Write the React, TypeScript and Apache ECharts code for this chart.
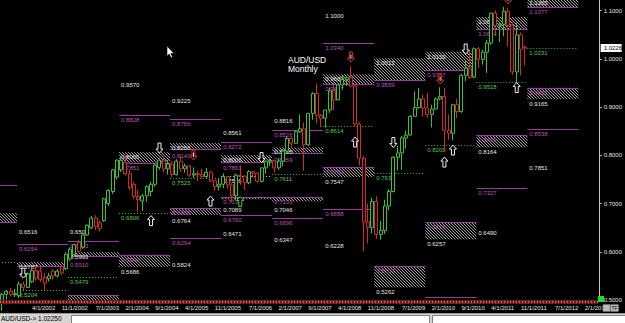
import React, { useEffect, useRef } from 'react';
import * as echarts from 'echarts';

// ---------- data ----------
const FIRST_YEAR = 2001;
const FIRST_MONTH = 9; // Sep 2001 is the first category
const CATEGORY_COUNT = 141; // runs into the empty future (May 2013)
const months: string[] = Array.from({ length: CATEGORY_COUNT }, (_, i) => {
  const m0 = FIRST_MONTH - 1 + i;
  return `${(m0 % 12) + 1}/1/${FIRST_YEAR + Math.floor(m0 / 12)}`;
});

const xTickLabels = [
  '4/1/2002', '11/1/2002', '7/1/2003', '2/1/2004', '9/1/2004', '4/1/2005', '11/1/2005',
  '7/1/2006', '2/1/2007', '9/1/2007', '4/1/2008', '11/1/2008', '7/1/2009', '2/1/2010',
  '9/1/2010', '4/1/2011', '11/1/2011', '7/1/2012', '2/1/2013',
];

const yMin = 0.5;
const yMax = 1.1222;
const yStep = 0.1;

// monthly candles [open, high, low, close], Sep 2001 .. Dec 2011
const ohlc: number[][] = [
  [0.4960, 0.5150, 0.4775, 0.5120], [0.5120, 0.5210, 0.5010, 0.5180], [0.5180, 0.5250, 0.5070, 0.5110], [0.5110, 0.5230, 0.5060, 0.5130],
  // 2002
  [0.5090, 0.5380, 0.5040, 0.5330], [0.5330, 0.5380, 0.5210, 0.5260], [0.5260, 0.5570, 0.5250, 0.5540], [0.5380, 0.5660, 0.5350, 0.5610],
  [0.5610, 0.5720, 0.5400, 0.5450], [0.5600, 0.5700, 0.5380, 0.5420], [0.5470, 0.5560, 0.5200, 0.5350], [0.5440, 0.5560, 0.5380, 0.5500],
  [0.5600, 0.5640, 0.5420, 0.5500], [0.5500, 0.5640, 0.5460, 0.5600], [0.5690, 0.5720, 0.5520, 0.5560], [0.5650, 0.5990, 0.5620, 0.5950],
  // 2003
  [0.5850, 0.6090, 0.5810, 0.6050], [0.5940, 0.6170, 0.5900, 0.6150], [0.6200, 0.6240, 0.5970, 0.6010], [0.6100, 0.6380, 0.6060, 0.6350],
  [0.6350, 0.6570, 0.6330, 0.6550], [0.6500, 0.6740, 0.6470, 0.6700], [0.6700, 0.6760, 0.6450, 0.6520], [0.6600, 0.6650, 0.6420, 0.6480],
  [0.6650, 0.7120, 0.6620, 0.7100], [0.7000, 0.7300, 0.6950, 0.7270], [0.7250, 0.7720, 0.7200, 0.7700], [0.7550, 0.7920, 0.7500, 0.7900],
  // 2004
  [0.7700, 0.7960, 0.7650, 0.7900], [0.7850, 0.8007, 0.7580, 0.7620], [0.7620, 0.7700, 0.7280, 0.7330], [0.7400, 0.7450, 0.7100, 0.7150],
  [0.7150, 0.7280, 0.6830, 0.7080], [0.7050, 0.7200, 0.6850, 0.7160], [0.7160, 0.7380, 0.7040, 0.7350], [0.7250, 0.7450, 0.7150, 0.7400],
  [0.7400, 0.7820, 0.7350, 0.7800], [0.7750, 0.7940, 0.7700, 0.7900], [0.7900, 0.7980, 0.7650, 0.7720], [0.7720, 0.7900, 0.7600, 0.7820],
  // 2005
  [0.7820, 0.7880, 0.7550, 0.7600], [0.7600, 0.7920, 0.7580, 0.7880], [0.7880, 0.7990, 0.7660, 0.7720], [0.7720, 0.7830, 0.7640, 0.7780],
  [0.7780, 0.7800, 0.7550, 0.7590], [0.7590, 0.7750, 0.7530, 0.7620], [0.7620, 0.7680, 0.7470, 0.7600], [0.7600, 0.7720, 0.7540, 0.7560],
  [0.7560, 0.7740, 0.7530, 0.7650], [0.7650, 0.7680, 0.7440, 0.7470], [0.7470, 0.7480, 0.7260, 0.7350], [0.7350, 0.7510, 0.7270, 0.7400],
  // 2006
  [0.7400, 0.7630, 0.7320, 0.7560], [0.7560, 0.7560, 0.7310, 0.7390], [0.7390, 0.7420, 0.7020, 0.7160], [0.7160, 0.7620, 0.7060, 0.7590],
  [0.7590, 0.7790, 0.7390, 0.7570], [0.7570, 0.7590, 0.7280, 0.7430], [0.7430, 0.7690, 0.7400, 0.7660], [0.7660, 0.7680, 0.7530, 0.7630],
  [0.7630, 0.7640, 0.7430, 0.7460], [0.7460, 0.7750, 0.7440, 0.7740], [0.7740, 0.7900, 0.7620, 0.7880], [0.7880, 0.7960, 0.7780, 0.7890],
  // 2007
  [0.7890, 0.7900, 0.7640, 0.7740], [0.7740, 0.7940, 0.7700, 0.7880], [0.7880, 0.8130, 0.7770, 0.8090], [0.8090, 0.8390, 0.8050, 0.8350],
  [0.8350, 0.8370, 0.8150, 0.8250], [0.8250, 0.8520, 0.8240, 0.8490], [0.8490, 0.8850, 0.8460, 0.8550], [0.8550, 0.8680, 0.7680, 0.8220],
  [0.8220, 0.8880, 0.8190, 0.8870], [0.8870, 0.9310, 0.8740, 0.9280], [0.9280, 0.9490, 0.8660, 0.8830], [0.8830, 0.8860, 0.8580, 0.8770],
  // 2008
  [0.8770, 0.8940, 0.8580, 0.8940], [0.8940, 0.9410, 0.8880, 0.9340], [0.9340, 0.9500, 0.8930, 0.9150], [0.9150, 0.9470, 0.9140, 0.9460],
  [0.9460, 0.9650, 0.9370, 0.9570], [0.9570, 0.9640, 0.9440, 0.9610], [0.9610, 0.9850, 0.9420, 0.9440], [0.9440, 0.9460, 0.8600, 0.8650],
  [0.8650, 0.8690, 0.7790, 0.7940], [0.7940, 0.7990, 0.6008, 0.6620], [0.6620, 0.7000, 0.6170, 0.6500], [0.6500, 0.7120, 0.6380, 0.7040],
  // 2009
  [0.7040, 0.7150, 0.6270, 0.6360], [0.6360, 0.6640, 0.6250, 0.6440], [0.6440, 0.7080, 0.6370, 0.6950], [0.6950, 0.7300, 0.6860, 0.7250],
  [0.7250, 0.7980, 0.7230, 0.7960], [0.7960, 0.8200, 0.7690, 0.8050], [0.8050, 0.8400, 0.7700, 0.8360], [0.8360, 0.8510, 0.8140, 0.8420],
  [0.8420, 0.8830, 0.8410, 0.8810], [0.8810, 0.9330, 0.8810, 0.8990], [0.8990, 0.9400, 0.8970, 0.9170], [0.9170, 0.9260, 0.8800, 0.8980],
  // 2010
  [0.8980, 0.9290, 0.8770, 0.8850], [0.8850, 0.9050, 0.8580, 0.8960], [0.8960, 0.9200, 0.8950, 0.9170], [0.9170, 0.9410, 0.9140, 0.9220],
  [0.9220, 0.9400, 0.8070, 0.8520], [0.8520, 0.8850, 0.8320, 0.8460], [0.8460, 0.9070, 0.8310, 0.9050], [0.9050, 0.9170, 0.8770, 0.8910],
  [0.8910, 0.9690, 0.8880, 0.9660], [0.9660, 0.9980, 0.9540, 0.9810], [0.9810, 1.0180, 0.9590, 0.9620], [0.9620, 1.0240, 0.9600, 1.0210],
  // 2011
  [1.0210, 1.0250, 0.9810, 0.9990], [0.9990, 1.0190, 0.9880, 1.0140], [1.0140, 1.0390, 0.9710, 1.0330], [1.0330, 1.0960, 1.0290, 1.0950],
  [1.0950, 1.1010, 1.0470, 1.0690], [1.0690, 1.0770, 1.0350, 1.0720], [1.0720, 1.1080, 1.0470, 1.0990], [1.0990, 1.1060, 1.0260, 1.0700],
  [1.0700, 1.0760, 0.9670, 0.9730], [0.9730, 1.0750, 0.9390, 1.0500], [1.0500, 1.0550, 0.9660, 1.0200], [1.0240, 1.0280, 0.9860, 1.0226],
];

const currentPrice = 1.0226;
const statusText = 'AUD/USD-> 1.02250';
const titleLines = ['AUD/USD', 'Monthly'];

// yearly levels: [year column, price, kind]  hi = white label, res = purple line, sup = green dotted, wdot = white dotted
const levels: [number, number, string][] = [
  [2001, 0.7383, 'res'], [2001, 0.5787, 'sup'],
  [2002, 0.6516, 'hi'], [2002, 0.6154, 'res'], [2002, 0.5204, 'sup'],
  [2003, 0.6504, 'hi'], [2003, 0.6223, 'res'], [2003, 0.5479, 'sup'],
  [2004, 0.9570, 'hi'], [2004, 0.8828, 'res'], [2004, 0.6806, 'sup'],
  [2005, 0.9225, 'hi'], [2005, 0.8756, 'res'], [2005, 0.7525, 'sup'], [2005, 0.6294, 'res'], [2005, 0.5824, 'hi'],
  [2006, 0.8561, 'hi'], [2006, 0.8272, 'res'], [2006, 0.7566, 'wdot'], [2006, 0.6760, 'res'], [2006, 0.6471, 'hi'],
  [2007, 0.8816, 'hi'], [2007, 0.8526, 'res'], [2007, 0.7611, 'sup'], [2007, 0.6696, 'res'], [2007, 0.6347, 'hi'],
  [2008, 1.1000, 'hi'], [2008, 1.0340, 'res'], [2008, 0.8614, 'sup'], [2008, 0.6888, 'res'], [2008, 0.6228, 'hi'],
  [2009, 0.7631, 'sup'],
  [2010, 0.8209, 'sup'], [2010, 0.5060, 'res'],
  [2011, 0.9518, 'sup'], [2011, 0.7327, 'res'], [2011, 0.6490, 'hi'],
  [2012, 1.0231, 'sup'], [2012, 0.8538, 'res'], [2012, 0.7851, 'hi'],
];

// hatched zones: [year column, top, bottom, kind]  S = purple edge at bottom, D = purple edge at top
const zones: [number, number, number, string][] = [
  [2001, 0.6800, 0.6610, 'S'],
  [2002, 0.5787, 0.5700, 'S'],
  [2003, 0.5993, 0.5910, 'S'], [2003, 0.5095, 0.4990, 'D'],
  [2004, 0.8065, 0.7851, 'S'], [2004, 0.5940, 0.5686, 'D'],
  [2005, 0.8256, 0.8140, 'S'], [2005, 0.6906, 0.6764, 'D'],
  [2006, 0.8006, 0.7861, 'S'], [2006, 0.7133, 0.7089, 'D'],
  [2007, 0.8165, 0.8059, 'S'], [2007, 0.7133, 0.7046, 'D'],
  [2008, 0.9680, 0.9477, 'S'], [2008, 0.7752, 0.7547, 'D'],
  [2009, 1.0013, 0.9559, 'S'], [2009, 0.5703, 0.5262, 'D'],
  [2010, 1.0150, 0.9767, 'S'], [2010, 0.6616, 0.6257, 'D'],
  [2011, 1.0870, 1.0614, 'S'], [2011, 0.8413, 0.8164, 'D'],
  [2012, 1.1265, 1.1077, 'S'], [2012, 0.9401, 0.9165, 'D'],
];

// signal arrows: [month index, price, direction (1 up / -1 down), colour]
const arrows: [number, number, number, string][] = [
  [5, 0.5558, -1, 'w'], [35, 0.6647, 1, 'w'], [37, 0.8151, -1, 'w'], [45, 0.8006, -1, 'r'],
  [49, 0.7052, 1, 'w'], [56, 0.7042, 1, 'g'], [61, 0.7954, -1, 'w'], [82, 1.0039, -1, 'r'],
  [83, 0.8276, 1, 'w'], [92, 0.8266, -1, 'w'], [103, 0.9583, -1, 'r'], [104, 0.7861, 1, 'w'],
  [106, 0.8110, 1, 'w'], [109, 1.0205, -1, 'w'], [119, 1.1245, -1, 'r'], [121, 0.9407, 1, 'w'],
];

// ---------- styles ----------
const FONT = '"Liberation Sans", Arial, sans-serif';
const NARROW = '"Liberation Sans Narrow", "Liberation Sans", Arial, sans-serif';
const PURPLE = '#9a3a9a';
const PURPLE_TXT = '#b856b8';
const GREEN = '#3cbc3c';
const GREEN_TXT = '#52c852';
const WHITE_TXT = '#e4e4e4';
const BULL = '#3cc03c';
const BEAR = '#d02c2c';

const colStart = (year: number) => (year - FIRST_YEAR) * 12 - (FIRST_MONTH - 1);

function columnX(api: any, year: number, price: number) {
  const bw = api.size([1, 0])[0];
  const p = api.coord([0, price]);
  const x0 = p[0] - bw / 2 + colStart(year) * bw;
  return { x0, x1: x0 + 12 * bw, y: p[1] };
}

function label(text: string, x: number, y: number, fill: string) {
  return {
    type: 'text',
    x,
    y,
    style: { text, fill, fontSize: 6, fontFamily: FONT, align: 'left', verticalAlign: 'top' },
  };
}

function crisp(v: number) {
  return Math.round(v) + 0.5;
}

export default function App() {
  const ref = useRef<HTMLDivElement>(null);

  useEffect(() => {
    if (!ref.current) return;
    const chart = echarts.init(ref.current, null, { renderer: 'svg' });
    const labelSet = new Set(xTickLabels);

    const option: any = {
      animation: false,
      backgroundColor: '#000000',
      grid: { left: 0, right: 22, top: 0, bottom: 23, containLabel: false },
      xAxis: {
        type: 'category',
        data: months,
        boundaryGap: true,
        axisLine: { show: false },
        axisTick: { show: false },
        splitLine: { show: false },
        axisLabel: {
          interval: (index: number) => labelSet.has(months[index]),
          color: WHITE_TXT,
          fontSize: 6,
          fontFamily: NARROW,
          align: 'left',
          margin: 5,
          hideOverlap: false,
        },
      },
      yAxis: {
        type: 'value',
        position: 'right',
        min: yMin,
        max: yMax,
        interval: yStep,
        splitLine: { show: false },
        axisLine: { show: true, lineStyle: { color: '#c8c8c8', width: 1 } },
        axisTick: { show: true, length: 2, lineStyle: { color: '#c8c8c8' } },
        axisLabel: {
          color: WHITE_TXT,
          fontSize: 6,
          fontFamily: FONT,
          margin: 4,
          showMaxLabel: false,
          formatter: (v: number) => (Math.abs(v * 10 - Math.round(v * 10)) < 1e-6 ? v.toFixed(4) : ''),
        },
      },
      series: [
        // hatched zones
        {
          type: 'custom',
          z: 1,
          silent: true,
          data: zones.map((z) => [0, z[1]]),
          renderItem: (params: any, api: any) => {
            const [year, top, bottom, kind] = zones[params.dataIndex];
            const t = columnX(api, year, top);
            const yB = api.coord([0, bottom])[1];
            const { x0, x1 } = t;
            const yT = t.y;
            const step = 3;
            let d = '';
            const cStart = Math.ceil((yT - x1) / step) * step;
            for (let c = cStart; c <= yB - x0; c += step) {
              const xs = Math.max(x0, yT - c);
              const xe = Math.min(x1, yB - c);
              if (xe > xs) d += `M${xs.toFixed(1)} ${(xs + c).toFixed(1)}L${xe.toFixed(1)} ${(xe + c).toFixed(1)}`;
            }
            const children: any[] = [];
            if (d) children.push({ type: 'path', shape: { pathData: d }, style: { stroke: '#cfcfcf', lineWidth: 0.8, fill: null } });
            const purpleY = kind === 'S' ? yB : yT;
            children.push({
              type: 'line',
              shape: { x1: x0, y1: crisp(purpleY), x2: x1, y2: crisp(purpleY) },
              style: { stroke: PURPLE, lineWidth: 1.2 },
            });
            const plotBottom = params.coordSys.y + params.coordSys.height;
            if (x0 >= 0) {
              const topY = yT + 2;
              const botY = Math.max(yB + 2, topY + 7.5);
              if (topY + 7 < plotBottom && yT > -4)
                children.push(label(top.toFixed(4), x0 + 2, topY, kind === 'S' ? WHITE_TXT : PURPLE_TXT));
              if (botY + 7 < plotBottom)
                children.push(label(bottom.toFixed(4), x0 + 2, botY, kind === 'S' ? PURPLE_TXT : WHITE_TXT));
            }
            return { type: 'group', children };
          },
        },
        // yearly levels
        {
          type: 'custom',
          z: 1,
          silent: true,
          data: levels.map((l) => [0, l[1]]),
          renderItem: (params: any, api: any) => {
            const [year, price, kind] = levels[params.dataIndex];
            const { x0, x1, y } = columnX(api, year, price);
            const children: any[] = [];
            let txt = WHITE_TXT;
            if (kind === 'res') {
              txt = PURPLE_TXT;
              children.push({ type: 'line', shape: { x1: x0, y1: crisp(y), x2: x1, y2: crisp(y) }, style: { stroke: PURPLE, lineWidth: 1.2 } });
            } else if (kind === 'sup') {
              txt = GREEN_TXT;
              children.push({ type: 'line', shape: { x1: x0, y1: crisp(y), x2: x1, y2: crisp(y) }, style: { stroke: GREEN, lineWidth: 1, lineDash: [1, 2] } });
            } else if (kind === 'wdot') {
              children.push({ type: 'line', shape: { x1: x0, y1: crisp(y), x2: x1, y2: crisp(y) }, style: { stroke: '#cfcfcf', lineWidth: 1, lineDash: [1, 2] } });
            }
            const plotBottom = params.coordSys.y + params.coordSys.height;
            if (x0 >= 0 && y + 9 < plotBottom) children.push(label(price.toFixed(4), x0 + 2, y + 2, txt));
            return { type: 'group', children };
          },
        },
        // candles
        {
          type: 'candlestick',
          z: 3,
          barWidth: 3.5,
          clip: true,
          data: ohlc.map(([o, h, l, c]) => [o, c, l, h]),
          itemStyle: { color: '#000000', color0: '#000000', borderColor: BULL, borderColor0: BEAR, borderWidth: 1 },
        },
        // arrows
        {
          type: 'custom',
          z: 4,
          silent: true,
          data: arrows.map((a) => [a[0], a[1]]),
          renderItem: (params: any, api: any) => {
            const [idx, price, dir, col] = arrows[params.dataIndex];
            const [cx, cy] = api.coord([idx, price]);
            const s = dir;
            const pts = [
              [cx - 3.5, cy - s * 1],
              [cx, cy - s * 5],
              [cx + 3.5, cy - s * 1],
              [cx + 1.5, cy - s * 1],
              [cx + 1.5, cy + s * 5],
              [cx - 1.5, cy + s * 5],
              [cx - 1.5, cy - s * 1],
            ];
            const stroke = col === 'r' ? '#e03030' : col === 'g' ? '#40d040' : '#f0f0f0';
            const children: any[] = [
              { type: 'polygon', shape: { points: pts }, style: { fill: '#000000', stroke, lineWidth: 1 } },
            ];
            if (col === 'r') {
              // small "1" mark inside the signal arrow
              children.push({
                type: 'line',
                shape: { x1: cx, y1: cy - 2.5, x2: cx, y2: cy + 2 },
                style: { stroke: '#f0d0d0', lineWidth: 1 },
              });
            }
            return { type: 'group', children };
          },
        },
        // current price tag on the price scale
        {
          type: 'custom',
          z: 5,
          silent: true,
          data: [[ohlc.length - 1, currentPrice]],
          renderItem: (params: any, api: any) => {
            const y = api.coord([ohlc.length - 1, currentPrice])[1];
            const x = params.coordSys.x + params.coordSys.width;
            return {
              type: 'group',
              children: [
                { type: 'rect', shape: { x: x + 1, y: y - 4, width: 21, height: 8 }, style: { fill: '#ffffff' } },
                {
                  type: 'text',
                  x: x + 4,
                  y,
                  style: { text: currentPrice.toFixed(4), fill: '#000000', fontSize: 6, fontFamily: FONT, align: 'left', verticalAlign: 'middle' },
                },
              ],
            };
          },
        },
      ],
      graphic: [
        { type: 'text', left: 288, top: 55, z: 10, style: { text: titleLines[0], fill: '#ffffff', fontSize: 8.5, fontFamily: FONT } },
        { type: 'text', left: 288, top: 64.5, z: 10, style: { text: titleLines[1], fill: '#ffffff', fontSize: 8.5, fontFamily: FONT } },
        // mouse pointer
        {
          type: 'polygon',
          z: 20,
          shape: { points: [[167, 46], [167, 56], [169.3, 54], [171, 57.8], [172.6, 57.1], [170.9, 53.5], [174, 53.5]] },
          style: { fill: '#ffffff', stroke: '#000000', lineWidth: 0.6 },
        },
        // time-scale strip
        { type: 'rect', z: 30, shape: { x: 0, y: 300, width: 598, height: 4 }, style: { fill: '#6a1c1c' } },
        { type: 'line', z: 31, shape: { x1: 0, y1: 302, x2: 598, y2: 302 }, style: { stroke: '#c86a6a', lineWidth: 2, lineDash: [1, 2] } },
        { type: 'rect', z: 31, shape: { x: 598, y: 296, width: 6, height: 6 }, style: { fill: '#1ee01e' } },
        // TF buttons
        { type: 'rect', z: 32, shape: { x: 603, y: 304.5, width: 7, height: 7 }, style: { fill: '#bcbcbc', stroke: '#6e6e6e', lineWidth: 0.5 } },
        { type: 'rect', z: 32, shape: { x: 610.5, y: 304.5, width: 8, height: 7 }, style: { fill: '#bcbcbc', stroke: '#6e6e6e', lineWidth: 0.5 } },
        { type: 'text', z: 33, x: 614.5, y: 308, style: { text: 'TF', fill: '#000000', fontSize: 5, fontFamily: FONT, align: 'center', verticalAlign: 'middle' } },
        // status bar
        { type: 'rect', z: 40, shape: { x: 0, y: 313, width: 625, height: 10 }, style: { fill: '#d8d5d0' } },
        { type: 'line', z: 41, shape: { x1: 0, y1: 313.5, x2: 625, y2: 313.5 }, style: { stroke: '#9a9a9a', lineWidth: 1 } },
        { type: 'rect', z: 41, shape: { x: 71.5, y: 315.5, width: 358, height: 8 }, style: { fill: '#ffffff', stroke: '#808080', lineWidth: 1 } },
        { type: 'rect', z: 41, shape: { x: 432.5, y: 315.5, width: 193, height: 8 }, style: { fill: '#ffffff', stroke: '#808080', lineWidth: 1 } },
        { type: 'text', z: 42, x: 1, y: 318.5, style: { text: statusText, fill: '#000000', fontSize: 6.5, fontFamily: FONT, verticalAlign: 'middle' } },
      ],
    };

    chart.setOption(option);
    return () => chart.dispose();
  }, []);

  return (
    <div
      ref={ref}
      style={{ position: 'fixed', left: 0, top: 0, width: 625, height: 323, background: '#000000' }}
    />
  );
}
